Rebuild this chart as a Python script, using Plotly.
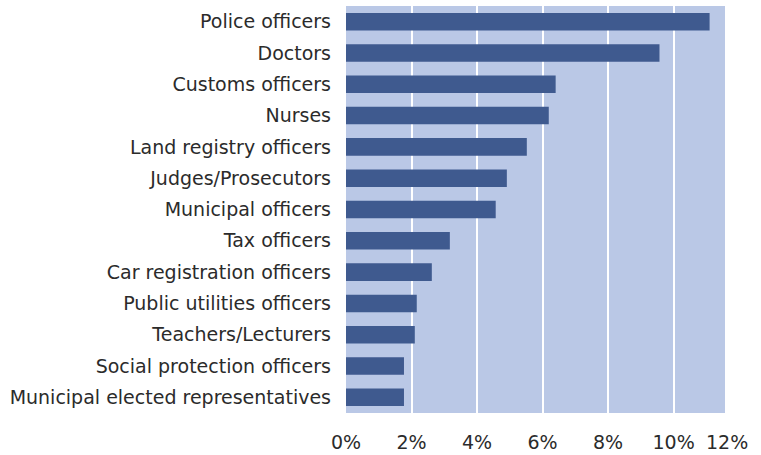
import plotly.graph_objects as go

categories = [
    "Police officers", "Doctors", "Customs officers", "Nurses",
    "Land registry officers", "Judges/Prosecutors", "Municipal officers",
    "Tax officers", "Car registration officers", "Public utilities officers",
    "Teachers/Lecturers", "Social protection officers",
    "Municipal elected representatives",
]
values = [11.10, 9.57, 6.40, 6.19, 5.52, 4.91, 4.57, 3.17, 2.62, 2.16, 2.10, 1.77, 1.77]
tick_vals = [0, 2, 4, 6, 8, 10]
tick_text = ["0%", "2%", "4%", "6%", "8%", "10%"]
extra_tick = "12%"

FONT = "DejaVu Sans"
TXT = "#2b2b2b"
FS = 19

fig = go.Figure(go.Bar(
    x=values, y=categories, orientation="h",
    marker=dict(color="#3f5a8f", line=dict(width=0)),
    hoverinfo="skip",
))

fig.update_layout(
    width=761, height=455,
    margin=dict(l=346, r=36, t=6, b=42),
    paper_bgcolor="white", plot_bgcolor="#bac8e6",
    bargap=0.44, showlegend=False,
    font=dict(family=FONT, size=FS, color=TXT),
    xaxis=dict(
        range=[0, 11.57], tickvals=tick_vals, ticktext=tick_text,
        showgrid=True, gridcolor="white", gridwidth=2,
        zeroline=False, showline=False, ticks="",
        ticklabelstandoff=16, fixedrange=True, automargin=False,
        tickfont=dict(family=FONT, size=FS, color=TXT),
    ),
    yaxis=dict(
        categoryorder="array", categoryarray=categories[::-1],
        showgrid=False, zeroline=False, showline=False, ticks="",
        ticklabelstandoff=14, fixedrange=True, automargin=False,
        tickfont=dict(family=FONT, size=FS, color=TXT),
    ),
    annotations=[dict(
        text=extra_tick, xref="paper", yref="paper", x=1.005, y=0,
        xanchor="center", yanchor="top", yshift=-16, showarrow=False,
        font=dict(family=FONT, size=FS, color=TXT),
    )],
)

fig.write_html(
    "out.html",
    config={"displayModeBar": False},
    post_script="document.body.style.margin='0px';document.body.style.overflow='hidden';",
)
